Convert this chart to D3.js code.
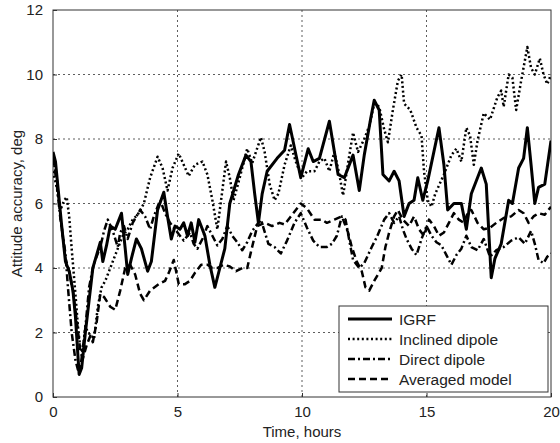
<!DOCTYPE html>
<html>
<head>
<meta charset="utf-8">
<script src="https://cdn.jsdelivr.net/npm/d3@7"></script>
<style>
  body { margin: 0; background: #fff; }
  text { font-family: "Liberation Sans", Arial, sans-serif; fill: #222; }
</style>
</head>
<body>
<svg id="chart" width="560" height="443"></svg>
<script>
// values: [time (h), accuracy (deg)]
const igrf = [[0,7.6],[0.1,7.3],[0.2,6.5],[0.35,5.3],[0.5,4.2],[0.65,3.9],[0.8,3.3],[0.9,2.5],[1.0,1.3],[1.05,0.7],[1.15,0.9],[1.3,2.0],[1.45,3.0],[1.6,4.0],[1.75,4.4],[1.9,4.8],[2.0,4.2],[2.15,4.7],[2.3,5.3],[2.5,5.2],[2.6,5.4],[2.75,5.7],[2.9,4.6],[3.0,3.8],[3.15,4.3],[3.35,4.9],[3.55,4.6],[3.8,3.9],[3.95,4.2],[4.2,5.8],[4.45,6.35],[4.6,5.6],[4.75,4.9],[4.9,5.3],[5.1,5.2],[5.25,5.4],[5.4,5.0],[5.55,5.4],[5.7,4.8],[5.85,5.5],[6.1,5.0],[6.3,4.1],[6.5,3.4],[6.7,4.0],[6.9,4.6],[7.1,6.0],[7.45,6.9],[7.75,7.5],[7.95,7.3],[8.1,6.3],[8.25,5.4],[8.4,6.3],[8.6,7.0],[9.0,7.4],[9.3,7.65],[9.5,8.45],[9.65,7.9],[9.95,6.8],[10.25,7.7],[10.45,7.3],[10.7,7.4],[11.1,8.55],[11.45,6.9],[11.7,6.8],[12.05,7.5],[12.3,6.4],[12.5,7.5],[12.75,8.6],[12.9,9.2],[13.1,8.9],[13.25,6.9],[13.5,6.7],[13.7,7.0],[13.9,6.7],[14.1,5.6],[14.3,6.0],[14.5,6.1],[14.65,6.8],[14.85,6.1],[15.05,6.7],[15.5,8.35],[15.7,7.2],[15.85,5.8],[16.1,6.0],[16.4,6.0],[16.6,5.2],[16.8,6.3],[17.2,7.1],[17.4,6.6],[17.6,3.7],[17.75,4.3],[18.0,4.75],[18.3,6.1],[18.45,6.0],[18.7,7.1],[18.9,7.4],[19.05,8.35],[19.2,7.2],[19.35,6.0],[19.5,6.5],[19.75,6.6],[20,7.95]];

const inclined = [[0,7.0],[0.15,6.5],[0.3,5.8],[0.45,6.1],[0.55,6.2],[0.65,5.6],[0.75,4.6],[0.9,3.2],[1.0,2.2],[1.1,1.5],[1.2,1.4],[1.3,2.2],[1.4,2.0],[1.55,1.9],[1.65,1.8],[1.8,2.8],[1.95,3.4],[2.1,3.6],[2.3,4.0],[2.6,4.6],[2.8,5.0],[3.0,5.2],[3.2,5.5],[3.4,5.65],[3.65,6.0],[3.9,6.8],[4.2,7.45],[4.4,7.1],[4.6,6.4],[4.8,7.1],[5.05,7.55],[5.25,7.2],[5.45,6.85],[5.7,7.2],[6.0,7.3],[6.2,6.9],[6.4,6.1],[6.6,5.2],[6.8,6.4],[6.95,7.3],[7.1,6.8],[7.25,6.1],[7.5,6.8],[7.8,7.7],[8.0,7.25],[8.15,7.6],[8.35,8.05],[8.5,7.6],[8.7,6.6],[8.9,6.1],[9.05,6.3],[9.3,7.2],[9.55,7.8],[9.75,7.3],[10.0,6.8],[10.2,7.0],[10.5,7.0],[10.7,7.3],[10.9,7.4],[11.1,7.0],[11.3,7.6],[11.5,6.9],[11.65,6.25],[11.85,7.25],[12.05,8.2],[12.25,7.6],[12.5,8.0],[12.7,8.4],[12.9,9.1],[13.1,9.0],[13.3,8.3],[13.45,7.9],[13.65,8.9],[13.85,9.8],[14.0,10.0],[14.1,9.1],[14.35,8.9],[14.6,8.35],[14.8,8.1],[14.9,7.0],[15.05,6.1],[15.2,5.9],[15.35,6.3],[15.7,6.9],[16.0,7.5],[16.2,7.7],[16.4,7.3],[16.6,8.35],[16.75,8.1],[16.9,7.2],[17.05,7.95],[17.3,8.8],[17.55,8.6],[17.85,9.3],[18.0,9.5],[18.1,9.0],[18.3,10.0],[18.45,9.9],[18.6,8.9],[18.8,9.8],[19.05,10.85],[19.2,10.2],[19.35,10.0],[19.55,10.5],[19.7,10.0],[19.85,9.7],[20,10.0]];

const direct = [[0,7.5],[0.15,6.6],[0.3,5.5],[0.5,4.45],[0.6,3.4],[0.75,2.0],[0.9,1.15],[1.0,0.85],[1.1,0.9],[1.3,2.15],[1.45,3.4],[1.6,4.0],[1.7,4.25],[1.9,4.65],[2.05,5.15],[2.2,5.5],[2.4,5.15],[2.6,4.65],[2.7,5.1],[2.85,5.3],[3.0,4.9],[3.2,5.4],[3.5,5.8],[3.7,5.6],[3.9,5.2],[4.05,5.6],[4.3,6.1],[4.5,5.7],[4.7,5.4],[5.0,5.1],[5.25,4.85],[5.5,5.1],[5.65,4.75],[5.8,4.6],[6.0,4.9],[6.2,5.3],[6.4,5.0],[6.6,4.7],[6.8,4.9],[7.0,5.3],[7.2,5.0],[7.4,4.8],[7.6,4.55],[7.8,4.8],[8.0,5.15],[8.35,5.5],[8.65,4.75],[8.9,4.65],[9.15,4.45],[9.4,4.85],[9.7,5.4],[9.95,5.7],[10.2,5.25],[10.45,4.85],[10.7,4.65],[11.0,4.65],[11.2,4.75],[11.4,5.0],[11.6,5.6],[11.75,5.5],[11.9,4.85],[12.05,4.25],[12.3,4.0],[12.5,4.15],[12.8,4.65],[13.0,4.95],[13.3,5.5],[13.5,5.7],[13.7,5.4],[13.9,5.6],[14.05,5.2],[14.2,4.9],[14.4,4.6],[14.6,4.4],[14.8,4.9],[15.0,5.3],[15.2,5.0],[15.4,4.8],[15.6,4.7],[15.8,4.4],[16.0,4.1],[16.2,4.4],[16.4,4.6],[16.6,5.0],[16.8,4.65],[17.05,4.55],[17.3,4.9],[17.55,4.35],[17.8,4.55],[18.1,4.65],[18.4,4.85],[18.7,4.95],[18.95,4.75],[19.2,5.15],[19.35,4.75],[19.5,4.25],[19.7,4.15],[19.85,4.35],[20,4.45]];

const averaged = [[0,7.4],[0.15,6.8],[0.3,5.6],[0.5,4.3],[0.65,3.9],[0.8,3.3],[0.95,2.4],[1.1,1.4],[1.2,1.2],[1.35,1.6],[1.5,1.9],[1.6,1.7],[1.75,2.3],[1.9,3.2],[2.05,3.1],[2.3,2.8],[2.5,2.7],[2.7,3.3],[2.9,4.0],[3.1,4.1],[3.3,3.8],[3.5,3.2],[3.65,3.0],[3.9,3.3],[4.25,3.5],[4.5,3.6],[4.65,3.85],[4.85,4.25],[5.05,3.5],[5.3,3.5],[5.5,3.6],[5.7,3.85],[5.95,4.1],[6.2,4.1],[6.4,4.0],[6.6,4.0],[6.85,4.1],[7.1,4.05],[7.35,3.9],[7.6,4.0],[7.8,4.0],[7.95,4.5],[8.2,5.3],[8.5,5.4],[8.8,5.3],[9.1,5.4],[9.3,5.35],[9.55,5.6],[9.95,6.0],[10.2,5.85],[10.5,5.5],[10.8,5.5],[11.0,5.4],[11.3,5.5],[11.6,5.6],[11.85,5.1],[12.0,4.65],[12.2,4.2],[12.4,3.9],[12.55,3.4],[12.7,3.3],[12.9,3.6],[13.2,4.0],[13.35,4.65],[13.5,5.1],[13.7,5.6],[13.85,5.8],[14.05,5.5],[14.3,5.3],[14.5,5.6],[14.7,5.2],[14.9,5.0],[15.1,5.5],[15.3,5.3],[15.5,5.0],[15.7,5.1],[15.9,5.4],[16.1,5.7],[16.3,5.5],[16.5,5.4],[16.7,5.8],[16.8,5.8],[17.05,5.4],[17.3,5.2],[17.55,5.25],[17.8,5.4],[18.1,5.55],[18.4,5.6],[18.7,5.8],[18.9,5.7],[19.1,5.4],[19.3,5.6],[19.5,5.7],[19.75,5.65],[20,5.9]];

const xTicks = [0, 5, 10, 15, 20];
const yTicks = [0, 2, 4, 6, 8, 10, 12];

const series = [
  {name: "IGRF", data: igrf, width: 3, dash: null},
  {name: "Inclined dipole", data: inclined, width: 2.5, dash: "2,2.6"},
  {name: "Direct dipole", data: direct, width: 2.5, dash: "7,3,2,3"},
  {name: "Averaged model", data: averaged, width: 2.5, dash: "7,4"}
];

const svg = d3.select("#chart");
const mLeft = 53, mRight = 551, mTop = 10, mBottom = 397;

const x = d3.scaleLinear().domain([0, 20]).range([mLeft, mRight]);
const y = d3.scaleLinear().domain([0, 12]).range([mBottom, mTop]);

svg.append("defs").append("clipPath").attr("id", "clip")
  .append("rect").attr("x", mLeft).attr("y", mTop)
  .attr("width", mRight - mLeft).attr("height", mBottom - mTop);

// grid
const grid = svg.append("g");
grid.selectAll(".gx").data(xTicks.slice(1, -1)).enter().append("line")
  .attr("x1", d => x(d)).attr("x2", d => x(d))
  .attr("y1", mTop).attr("y2", mBottom)
  .attr("stroke", "#333").attr("stroke-width", 0.8).attr("stroke-dasharray", "2,3");
grid.selectAll(".gy").data(yTicks.slice(1, -1)).enter().append("line")
  .attr("x1", mLeft).attr("x2", mRight)
  .attr("y1", d => y(d)).attr("y2", d => y(d))
  .attr("stroke", "#333").attr("stroke-width", 0.8).attr("stroke-dasharray", "2,3");

// axes
svg.append("g").attr("transform", `translate(0,${mBottom})`)
  .call(d3.axisBottom(x).tickValues(xTicks).tickSize(-4).tickPadding(9).tickFormat(d3.format("d")))
  .call(g => g.select(".domain").remove())
  .call(g => g.selectAll("line").attr("stroke", "#333"))
  .call(g => g.selectAll("text").attr("font-size", 15).attr("fill", "#222")
    .attr("font-family", "Liberation Sans, Arial, sans-serif"));

svg.append("g").attr("transform", `translate(${mLeft},0)`)
  .call(d3.axisLeft(y).tickValues(yTicks).tickSize(-4).tickPadding(10).tickFormat(d3.format("d")))
  .call(g => g.select(".domain").remove())
  .call(g => g.selectAll("line").attr("stroke", "#333"))
  .call(g => g.selectAll("text").attr("font-size", 15).attr("fill", "#222")
    .attr("font-family", "Liberation Sans, Arial, sans-serif"));

svg.append("rect").attr("x", mLeft).attr("y", mTop)
  .attr("width", mRight - mLeft).attr("height", mBottom - mTop)
  .attr("fill", "none").attr("stroke", "#333").attr("stroke-width", 1);

// lines
const line = d3.line().x(d => x(d[0])).y(d => y(d[1]));
svg.append("g").attr("clip-path", "url(#clip)")
  .selectAll("path").data(series).enter().append("path")
  .attr("d", d => line(d.data))
  .attr("fill", "none").attr("stroke", "#000")
  .attr("stroke-width", d => d.width)
  .attr("stroke-dasharray", d => d.dash)
  .attr("stroke-linejoin", "round");

// labels
svg.append("text").attr("x", (mLeft + mRight) / 2).attr("y", 437)
  .attr("text-anchor", "middle").attr("font-size", 15).text("Time, hours");
svg.append("text").attr("transform", `translate(22,${(mTop + mBottom) / 2}) rotate(-90)`)
  .attr("text-anchor", "middle").attr("font-size", 15).text("Attitude accuracy, deg");

// legend
const lg = svg.append("g").attr("transform", "translate(339,306)");
lg.append("rect").attr("width", 209).attr("height", 86)
  .attr("fill", "#fff").attr("stroke", "#333").attr("stroke-width", 1);
const items = lg.selectAll(".item").data(series).enter().append("g")
  .attr("transform", (d, i) => `translate(0,${13 + i * 20})`);
items.append("line").attr("x1", 9).attr("x2", 53).attr("y1", 0).attr("y2", 0)
  .attr("stroke", "#000").attr("stroke-width", d => d.width)
  .attr("stroke-dasharray", d => d.dash);
items.append("text").attr("x", 60).attr("y", 5.5).attr("font-size", 15.5).text(d => d.name);
</script>
</body>
</html>
